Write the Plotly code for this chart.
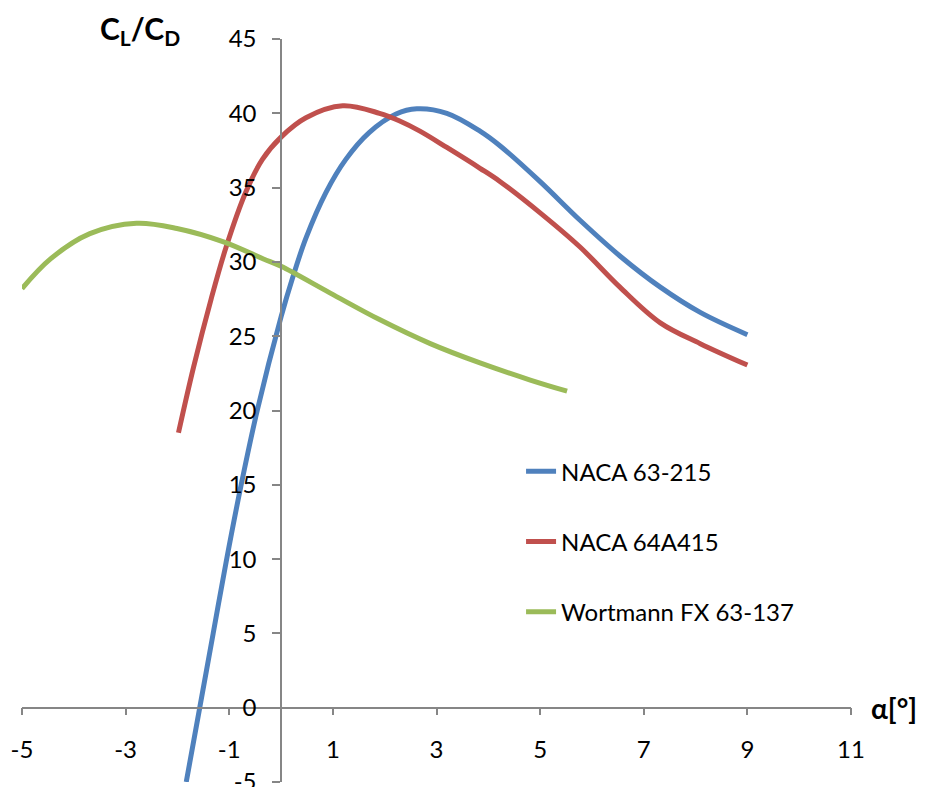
import plotly.graph_objects as go

# angle of attack (deg) and lift/drag ratio
naca63_alpha = [-1.83, -1.57, -1.31, -1.05, -0.77, -0.46, 0, 0.22, 0.48, 0.87, 1.25, 1.7, 2.22,
                2.62, 3.2, 3.84, 4.23, 5.0, 5.77, 6.54, 7.32, 8.09, 9.0]
naca63_cl_cd = [-5, 0, 5, 10, 15, 20, 26.3, 28.9, 31.6, 34.7, 36.9, 38.7, 39.95,
                40.3, 40.0, 38.8, 37.8, 35.4, 32.8, 30.4, 28.3, 26.6, 25.1]

naca64_alpha = [-1.98, -1.69, -1.35, -1.06, -0.68, -0.36, 0, 0.48, 1.19, 1.9, 2.28, 2.68,
                3.2, 3.84, 4.23, 5.0, 5.77, 6.54, 7.32, 8.09, 9.0]
naca64_cl_cd = [18.5, 22.9, 27.5, 31.0, 34.7, 36.9, 38.4, 39.7, 40.5, 40.0, 39.5, 38.8,
                37.7, 36.3, 35.4, 33.3, 31.0, 28.3, 25.9, 24.5, 23.06]

fx63_alpha = [-5, -4.45, -3.69, -2.79, -2.01, -1.11, -0.34, 0, 0.95, 1.91, 2.88, 3.84, 4.81, 5.52]
fx63_cl_cd = [28.2, 30.2, 31.9, 32.6, 32.25, 31.35, 30.2, 29.7, 27.9, 26.1, 24.5, 23.2, 22.05, 21.3]

x_ticks = [-5, -3, -1, 1, 3, 5, 7, 9, 11]
y_ticks = [-5, 0, 5, 10, 15, 20, 25, 30, 35, 40, 45]

font = "Lato"
axis_grey = "#868686"

fig = go.Figure()
series = [
    ("NACA 63-215", naca63_alpha, naca63_cl_cd, "#4F81BD"),
    ("NACA 64A415", naca64_alpha, naca64_cl_cd, "#C0504D"),
    ("Wortmann FX 63-137", fx63_alpha, fx63_cl_cd, "#9BBB59"),
]
for i, (name, xs, ys, col) in enumerate(series):
    fig.add_trace(go.Scatter(x=xs, y=ys, mode="lines", name=name, legendgroup=str(i),
                             line=dict(color=col, width=5, shape="spline", smoothing=1.0)))

# page body adds an 8px offset, so the figure is 8px smaller and margins shifted
fig.update_layout(
    width=920, height=779,
    margin=dict(l=14, r=77, t=31, b=5, autoexpand=False),
    plot_bgcolor="white", paper_bgcolor="white",
    font=dict(family=font, size=24, color="black"),
    legend=dict(x=0.602, y=0.448, xanchor="left", yanchor="top", traceorder="grouped",
                tracegroupgap=36, font=dict(size=24), bgcolor="rgba(0,0,0,0)"),
    xaxis=dict(range=[-5, 11], anchor="free", position=0.1, showgrid=False, zeroline=False,
               automargin=False, showline=True, linecolor=axis_grey, linewidth=1.5,
               ticks="outside", ticklen=7, tickcolor=axis_grey, tickwidth=1.5,
               tickvals=x_ticks, ticktext=[str(v) for v in x_ticks], ticklabelstandoff=14,
               ticklabeloverflow="allow"),
    yaxis=dict(range=[-5, 45], anchor="free", position=5 / 16, showgrid=False, zeroline=False,
               automargin=False, showline=True, linecolor=axis_grey, linewidth=1.5,
               ticks="outside", ticklen=8, tickcolor=axis_grey, tickwidth=1.5,
               tickvals=y_ticks, ticktext=[str(v) for v in y_ticks], ticklabelstandoff=11,
               ticklabeloverflow="allow"),
)

fig.add_annotation(text="<b>C<sub>L</sub>/C<sub>D</sub></b>", xref="paper", yref="paper",
                   x=0.142, y=1.012, xanchor="center", yanchor="middle", showarrow=False,
                   font=dict(family=font, size=30))
fig.add_annotation(text="<b>α[°]</b>", xref="paper", yref="y", x=1.0217, y=0,
                   xanchor="left", yanchor="middle", showarrow=False,
                   font=dict(family=font, size=28))

fig.write_html("out.html")
